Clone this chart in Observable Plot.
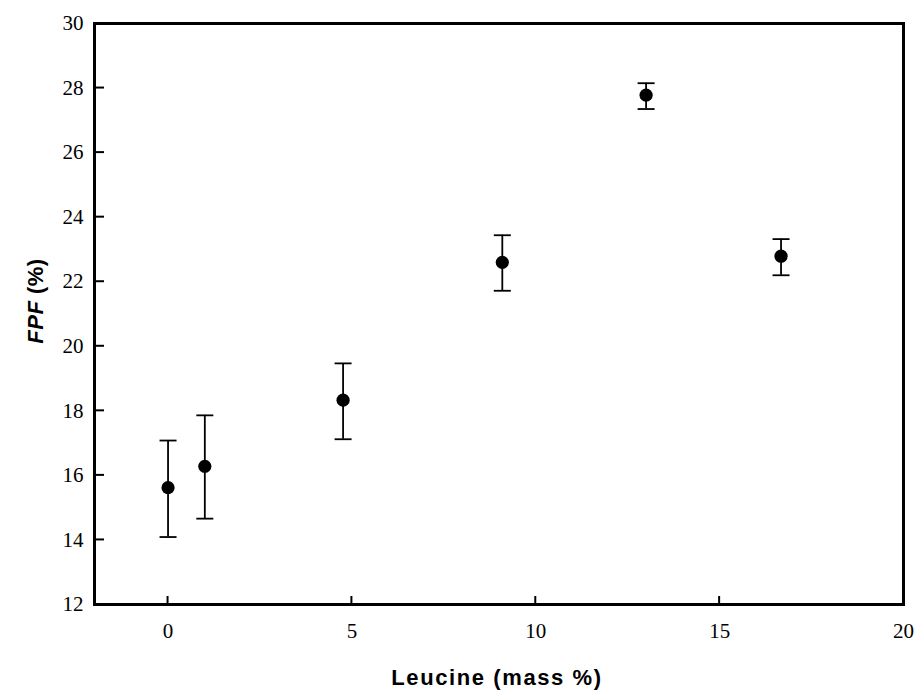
<!DOCTYPE html>
<html><head><meta charset="utf-8">
<script src="https://cdn.jsdelivr.net/npm/d3@7"></script>
<script src="https://cdn.jsdelivr.net/npm/@observablehq/plot@0.6"></script>
<style>body{margin:0;background:#fff}</style>
</head><body><div id="chart"></div>
<script>
const leucine = [0, 1, 4.76, 9.09, 13.0, 16.67];
const fpf = [15.62, 16.28, 18.33, 22.6, 27.78, 22.79];
const fpfLow = [14.09, 14.66, 17.12, 21.72, 27.35, 22.2];
const fpfHigh = [17.08, 17.86, 19.47, 23.44, 28.15, 23.32];
const xTicks = [0, 5, 10, 15, 20];
const yTicks = [12, 14, 16, 18, 20, 22, 24, 26, 28, 30];
const xLabel = "Leucine (mass %)";
const yLabelItalic = "FPF";
const yLabelRest = " (%)";

const W = 916, H = 691, mL = 94, mR = 13, mT = 23, mB = 87;
const yTickLen = 10, xTickLen = 8;

const data = leucine.map((x, i) => ({x, y: fpf[i], lo: fpfLow[i], hi: fpfHigh[i]}));
const cap = {draw(ctx) { ctx.moveTo(-8.5, 0); ctx.lineTo(8.5, 0); }};

const chart = Plot.plot({
  width: W, height: H,
  marginLeft: mL, marginRight: mR, marginTop: mT, marginBottom: mB,
  style: {fontFamily: "'Liberation Serif','Times New Roman',serif", fontSize: "21px", color: "#000", background: "#fff", overflow: "visible"},
  x: {domain: [-2, 20]},
  y: {domain: [12, 30]},
  marks: [
    Plot.axisX({ticks: xTicks, tickSize: 0, tickPadding: 19, label: null, fontSize: 21}),
    Plot.axisY({ticks: yTicks, tickSize: 0, tickPadding: 11, label: null, fontSize: 21}),
    Plot.ruleX(data, {x: "x", y1: "lo", y2: "hi", stroke: "#000", strokeWidth: 1.8}),
    Plot.dot(data, {x: "x", y: "lo", symbol: cap, stroke: "#000", strokeWidth: 1.8}),
    Plot.dot(data, {x: "x", y: "hi", symbol: cap, stroke: "#000", strokeWidth: 1.8}),
    Plot.dot(data, {x: "x", y: "y", r: 6.6, fill: "#000", stroke: "none"}),
    Plot.frame({stroke: "#000", strokeWidth: 3})
  ]
});
document.getElementById("chart").appendChild(chart);

const svg = d3.select(chart);
const sx = chart.scale("x"), sy = chart.scale("y");
const xLeft = sx.apply(sx.domain[0]), yBottom = sy.apply(sy.domain[0]);
const tg = svg.append("g").attr("stroke", "#000").attr("stroke-width", 2);
yTicks.slice(1, -1).forEach(v => {
  const y = sy.apply(v);
  tg.append("line").attr("x1", xLeft).attr("x2", xLeft + yTickLen).attr("y1", y).attr("y2", y);
});
xTicks.slice(0, -1).forEach(v => {
  const x = sx.apply(v);
  tg.append("line").attr("x1", x).attr("x2", x).attr("y1", yBottom).attr("y2", yBottom - xTickLen);
});

svg.append("text")
  .attr("x", 497).attr("y", 685)
  .attr("text-anchor", "middle")
  .style("font-family", "'Liberation Sans',Arial,sans-serif")
  .style("font-weight", "bold").style("font-size", "22px")
  .style("letter-spacing", "1.6px")
  .text(xLabel);
const yl = svg.append("text")
  .attr("transform", "translate(43,301) rotate(-90)")
  .attr("text-anchor", "middle")
  .style("font-family", "'Liberation Sans',Arial,sans-serif")
  .style("font-weight", "bold").style("font-size", "22px")
  .style("letter-spacing", "0.5px");
yl.append("tspan").style("font-style", "italic").text(yLabelItalic);
yl.append("tspan").text(yLabelRest);
</script>
</body></html>
